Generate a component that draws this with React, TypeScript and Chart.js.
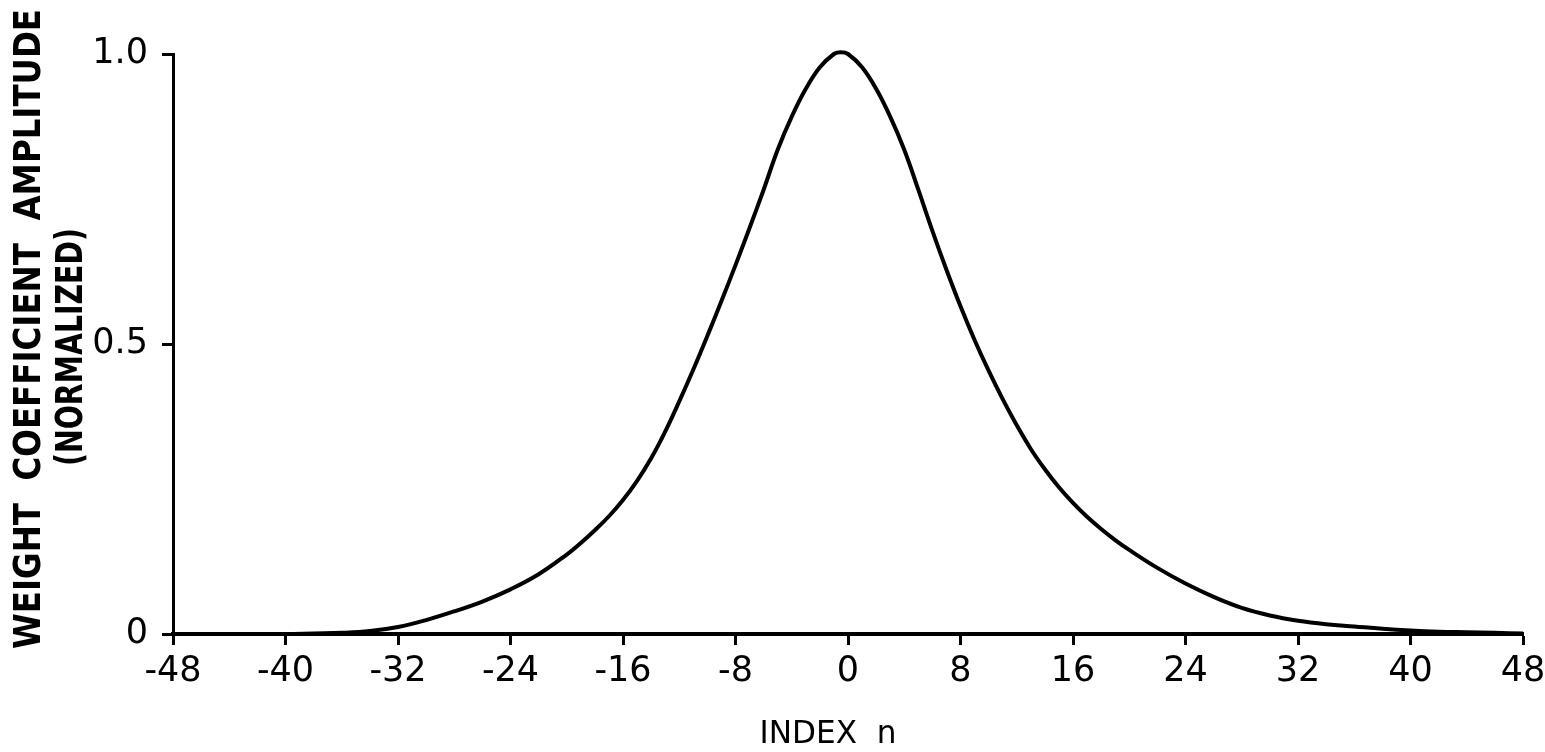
import { useEffect, useRef } from "react";
import { Chart, registerables } from "chart.js";

Chart.register(...registerables);

// Normalized weight coefficient amplitude versus index n
const indexN = [
  -48, -46, -44, -42, -40, -38, -36, -34, -32, -30, -28, -26, -24, -22, -20,
  -19, -18, -17, -16, -15, -14, -13, -12, -11, -10, -9, -8, -7, -6, -5, -4,
  -3, -2, -1, -0.5, 0, 1, 2, 3, 4, 5, 6, 7, 8, 9, 10, 11, 12, 13, 14, 15, 16,
  17, 18, 19, 20, 22, 24, 26, 28, 30, 32, 34, 36, 38, 40, 42, 44, 46, 48,
];
const weights = [
  0, 0, 0, 0, 0, 0.001, 0.002, 0.005, 0.012, 0.024, 0.039, 0.056, 0.077,
  0.103, 0.137, 0.157, 0.179, 0.203, 0.231, 0.264, 0.303, 0.349, 0.401,
  0.456, 0.514, 0.574, 0.636, 0.7, 0.766, 0.835, 0.892, 0.94, 0.977, 1.0,
  1.003, 1.0, 0.977, 0.94, 0.892, 0.835, 0.766, 0.695, 0.628, 0.565, 0.507,
  0.454, 0.405, 0.36, 0.319, 0.284, 0.253, 0.226, 0.202, 0.181, 0.162, 0.145,
  0.114, 0.087, 0.064, 0.045, 0.032, 0.023, 0.017, 0.013, 0.009, 0.006, 0.004,
  0.003, 0.002, 0.001,
];

const xTickValues = [-48, -40, -32, -24, -16, -8, 0, 8, 16, 24, 32, 40, 48];
const yTickValues = [0, 0.5, 1];
const yTickLabels = ["0", "0.5", "1.0"];
const yTitleLines = ["WEIGHT  COEFFICIENT  AMPLITUDE", "(NORMALIZED)"];
const xTitle = "INDEX  n";

const FONT = "'DejaVu Sans', 'Liberation Sans', sans-serif";

// Draws the hand-lettered style axis titles, squeezed to a set length
const titlePlugin = {
  id: "letteredTitles",
  afterDraw(chart: any) {
    const ctx = chart.ctx as CanvasRenderingContext2D;
    const drawFitted = (
      text: string,
      x: number,
      y: number,
      length: number,
      font: string,
      rotated: boolean
    ) => {
      ctx.save();
      ctx.fillStyle = "#000";
      ctx.font = font;
      ctx.textAlign = "center";
      ctx.textBaseline = "alphabetic";
      ctx.translate(x, y);
      if (rotated) ctx.rotate(-Math.PI / 2);
      const w = ctx.measureText(text).width;
      ctx.scale(length / w, 1);
      ctx.fillText(text, 0, 0);
      ctx.restore();
    };
    drawFitted(yTitleLines[0], 40, 329, 640, `bold 37px ${FONT}`, true);
    drawFitted(yTitleLines[1], 82, 347, 238, `bold 37px ${FONT}`, true);
    drawFitted(xTitle, 828, 743, 137, `32px ${FONT}`, false);
  },
};

export default function App() {
  const canvasRef = useRef<HTMLCanvasElement | null>(null);

  useEffect(() => {
    const canvas = canvasRef.current;
    if (!canvas) return;
    const points = indexN.map((n, i) => ({ x: n, y: weights[i] }));

    const chart = new Chart(canvas, {
      type: "line",
      data: {
        datasets: [
          {
            data: points,
            borderColor: "#000",
            borderWidth: 4,
            pointRadius: 0,
            tension: 0.4,
            clip: false,
            fill: false,
          },
        ],
      },
      options: {
        responsive: false,
        animation: false,
        devicePixelRatio: 1,
        layout: { padding: { top: 54, right: 22, left: 0, bottom: 0 } },
        plugins: {
          legend: { display: false },
          tooltip: { enabled: false },
          title: { display: false },
        },
        scales: {
          x: {
            type: "linear",
            min: -48,
            max: 48,
            afterBuildTicks: (scale: any) => {
              scale.ticks = xTickValues.map((v) => ({ value: v }));
            },
            afterFit: (scale: any) => {
              scale.height = 118;
              scale.paddingLeft = 0;
              scale.paddingRight = 0;
            },
            ticks: {
              color: "#000",
              font: { family: FONT, size: 35 },
              padding: 6,
              maxRotation: 0,
              autoSkip: false,
              callback: (v: any) => String(v),
            },
            grid: {
              display: true,
              drawOnChartArea: false,
              drawTicks: true,
              tickLength: 11,
              tickWidth: 3,
              tickColor: "#000",
            },
            border: { display: true, color: "#000", width: 4 },
          },
          y: {
            type: "linear",
            min: 0,
            max: 1,
            afterBuildTicks: (scale: any) => {
              scale.ticks = yTickValues.map((v) => ({ value: v }));
            },
            afterFit: (scale: any) => {
              scale.width = 173;
              scale.paddingTop = 0;
              scale.paddingBottom = 0;
            },
            ticks: {
              color: "#000",
              font: { family: FONT, size: 35 },
              padding: 14,
              autoSkip: false,
              callback: (v: any) => yTickLabels[yTickValues.indexOf(Number(v))] ?? "",
            },
            grid: {
              display: true,
              drawOnChartArea: false,
              drawTicks: true,
              tickLength: 11,
              tickWidth: 3,
              tickColor: "#000",
            },
            border: { display: true, color: "#000", width: 3 },
          },
        },
      },
      plugins: [titlePlugin],
    } as any);

    return () => chart.destroy();
  }, []);

  return (
    <div
      style={{
        position: "fixed",
        left: 0,
        top: 0,
        width: 1545,
        height: 752,
        background: "#fff",
      }}
    >
      <canvas ref={canvasRef} width={1545} height={752} style={{ display: "block" }} />
    </div>
  );
}
